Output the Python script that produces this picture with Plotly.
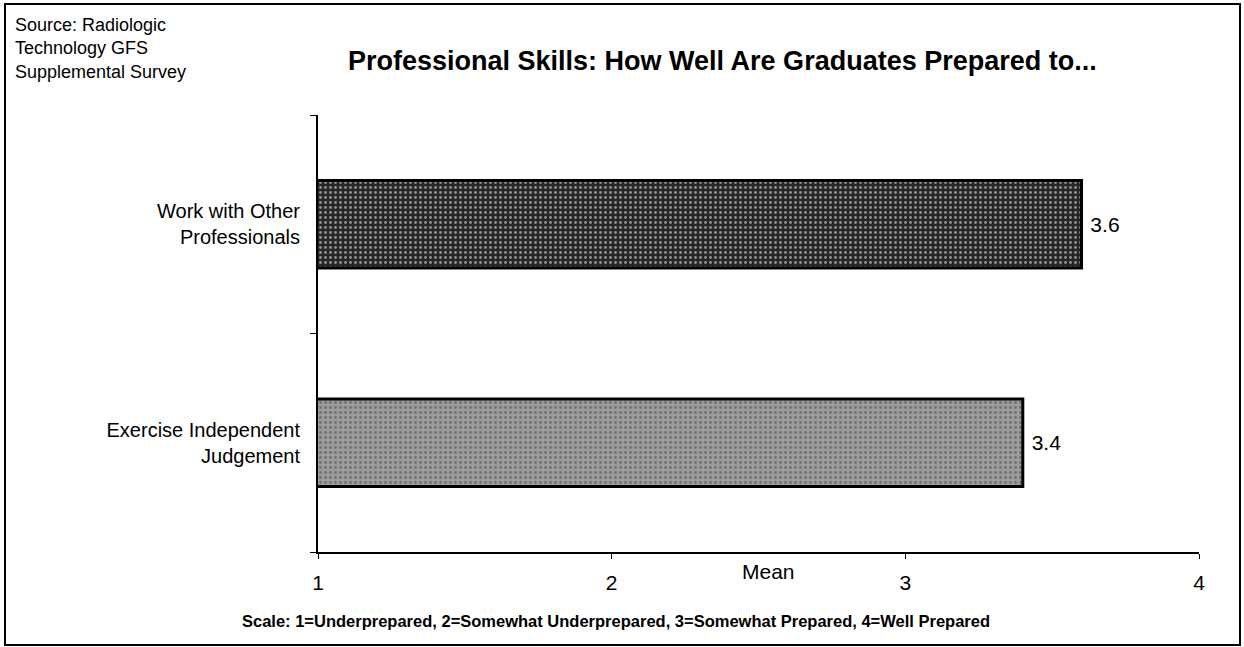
import plotly.graph_objects as go

categories = ["Exercise Independent<br>Judgement", "Work with Other<br>Professionals"]
means = [3.4, 3.6]
tick_vals = [1, 2, 3, 4]

title = "<b>Professional Skills: How Well Are Graduates Prepared to...</b>"
source = "Source: Radiologic<br>Technology GFS<br>Supplemental Survey"
scale_note = "Scale: 1=Underprepared, 2=Somewhat Underprepared, 3=Somewhat Prepared, 4=Well Prepared"

FONT = "Arial, Liberation Sans, sans-serif"

fig = go.Figure()
fig.add_trace(go.Bar(
    y=categories,
    x=means,
    orientation="h",
    text=[f" {v:.1f}" for v in means],
    textposition="outside",
    textfont=dict(size=21, color="black", family=FONT),
    marker=dict(
        color=["#9c9c9c", "#262626"],
        line=dict(color="black", width=3),
        pattern=dict(shape=".", fgcolor=["#6e6e6e", "#c8c8c8"],
                     bgcolor=["#a8a8a8", "#2a2a2a"], size=5, solidity=0.25,
                     fillmode="overlay"),
    ),
    width=0.4,
    cliponaxis=False,
    showlegend=False,
))

fig.update_layout(
    width=1244, height=647,
    margin=dict(l=318, r=45, t=115, b=95),
    paper_bgcolor="white", plot_bgcolor="white",
    font=dict(family=FONT, color="black"),
    xaxis=dict(range=[1, 4], tickvals=tick_vals, showgrid=False, zeroline=False,
               showline=True, linecolor="black", linewidth=1.5,
               ticks="outside", ticklen=5, tickcolor="black",
               tickfont=dict(size=21), ticklabelstandoff=6),
    yaxis=dict(categoryorder="array", categoryarray=categories,
               showgrid=False, zeroline=False, showline=True,
               linecolor="black", linewidth=2, ticks="outside", ticklen=6,
               tickson="boundaries", tickcolor="black",
               tickfont=dict(size=20), ticklabelstandoff=12),
    annotations=[
        dict(text=title, x=(722 - 318) / 881, y=(552 - 61) / 437, xref="paper", yref="paper",
             showarrow=False, font=dict(size=27), xanchor="center", yanchor="middle"),
        dict(text=source, x=(13 - 318) / 881, y=(552 - 13) / 437, xref="paper", yref="paper",
             showarrow=False, font=dict(size=18), xanchor="left", yanchor="top", align="left"),
        dict(text="Mean", x=(768 - 318) / 881, y=(552 - 571) / 437, xref="paper", yref="paper",
             showarrow=False, font=dict(size=21), xanchor="center", yanchor="middle"),
        dict(text="<b>" + scale_note + "</b>", x=(616 - 318) / 881, y=(552 - 621) / 437,
             xref="paper", yref="paper", showarrow=False, font=dict(size=16.5),
             xanchor="center", yanchor="middle"),
    ],
    shapes=[
        dict(type="rect", xref="paper", yref="paper",
             x0=(5 - 318) / 881, x1=(1240 - 318) / 881,
             y0=(552 - 645) / 437, y1=(552 - 4) / 437,
             line=dict(color="black", width=2)),
    ],
)

fig.write_html("out.html", config={"displayModeBar": False},
               post_script="document.body.style.margin='0';")
